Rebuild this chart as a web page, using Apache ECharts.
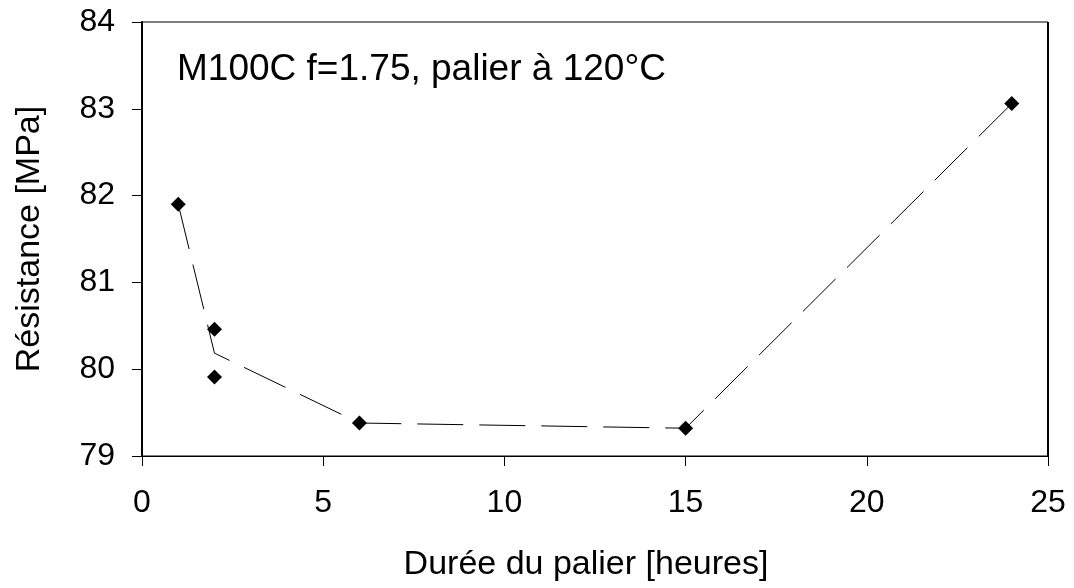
<!DOCTYPE html>
<html>
<head>
<meta charset="utf-8">
<script src="https://cdn.jsdelivr.net/npm/echarts@6/dist/echarts.min.js"></script>
<style>
  html, body { margin: 0; padding: 0; background: #fff; }
  #chart { width: 1074px; height: 588px; }
</style>
</head>
<body>
<div id="chart"></div>
<script>
// Measured specimens: hold duration (hours) and strength (MPa)
const hours = [1, 2, 2, 6, 15, 24];
const strength = [81.9, 80.46, 79.91, 79.38, 79.32, 83.06];

// Trend line through the mean strength at each duration
const trendHours = [1, 2, 6, 15, 24];
const trendStrength = [81.9, 80.185, 79.38, 79.32, 83.06];

const xTicks = [0, 5, 10, 15, 20, 25];
const yTicks = [79, 80, 81, 82, 83, 84];

const titleText = 'M100C f=1.75, palier à 120°C';
const xName = 'Durée du palier [heures]';
const yName = 'Résistance [MPa]';

const FONT = '"Liberation Sans", Arial, sans-serif';

const chart = echarts.init(document.getElementById('chart'), null, { renderer: 'canvas' });

const scatterData = hours.map((h, i) => [h, strength[i]]);
const lineData = trendHours.map((h, i) => [h, trendStrength[i]]);

chart.setOption({
  animation: false,
  backgroundColor: '#ffffff',
  grid: {
    left: 142, right: 26, top: 22, bottom: 132,
    show: true, borderColor: '#000', borderWidth: 1, backgroundColor: 'transparent'
  },
  xAxis: {
    type: 'value',
    min: xTicks[0], max: xTicks[xTicks.length - 1], interval: xTicks[1] - xTicks[0],
    axisLine: { show: true, lineStyle: { color: '#000', width: 1 } },
    axisTick: { show: true, inside: false, length: 10, lineStyle: { color: '#000', width: 1 } },
    axisLabel: { color: '#000', fontFamily: FONT, fontSize: 32, margin: 31 },
    splitLine: { show: false }
  },
  yAxis: {
    type: 'value',
    min: yTicks[0], max: yTicks[yTicks.length - 1], interval: yTicks[1] - yTicks[0],
    axisLine: { show: true, lineStyle: { color: '#000', width: 2 } },
    axisTick: { show: true, inside: false, length: 10, lineStyle: { color: '#000', width: 1 } },
    axisLabel: { color: '#000', fontFamily: FONT, fontSize: 32, margin: 27 },
    splitLine: { show: false }
  },
  graphic: [
    {
      type: 'text', left: 177, top: 51, silent: true,
      style: { text: titleText, fill: '#000', font: '37px ' + FONT }
    },
    {
      type: 'text', x: 586, y: 565, silent: true,
      style: { text: xName, fill: '#000', font: '34px ' + FONT, align: 'center', verticalAlign: 'middle' }
    },
    {
      type: 'text', x: 30, y: 239, rotation: Math.PI / 2, silent: true,
      style: { text: yName, fill: '#000', font: '34px ' + FONT, align: 'center', verticalAlign: 'middle' }
    },
    {
      // right edge of the frame
      type: 'line', silent: true,
      shape: { x1: 1048, y1: 22, x2: 1048, y2: 456 },
      style: { stroke: '#000', lineWidth: 2 }
    }
  ],
  series: [
    {
      type: 'line',
      data: lineData,
      symbol: 'none',
      lineStyle: { color: '#000', width: 1, type: [46, 16] },
      z: 2
    },
    {
      type: 'scatter',
      data: scatterData,
      symbol: 'diamond',
      symbolSize: 15,
      itemStyle: { color: '#000', opacity: 1 },
      z: 3
    }
  ]
});
</script>
</body>
</html>
